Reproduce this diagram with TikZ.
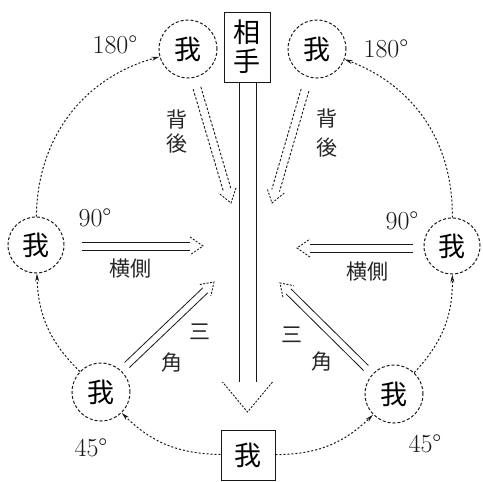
\documentclass[tikz,border=0pt]{standalone}
\usepackage{fontspec}
\newfontfamily\jp{Noto Sans CJK JP}
\usetikzlibrary{arrows.meta,calc}
\newcommand\dblarrow[7]{%
  \coordinate (dbH) at ($(#2)!#5!(#1)$);
  \draw[#6] ($(#1)!#3!90:(#2)$) -- ($(dbH)!#3!90:(#2)$)
            ($(#1)!#3!-90:(#2)$) -- ($(dbH)!#3!-90:(#2)$);
  \draw[#7] ($(dbH)!#4!90:(#2)$) -- (#2) -- ($(dbH)!#4!-90:(#2)$);
}
\tikzset{
  ring/.style={circle, draw=black!90, line width=1pt, dash pattern=on 3pt off 2pt,
    minimum size=58pt, inner sep=0pt, font=\jp\fontsize{27}{29}\selectfont},
  sq/.style={rectangle, draw=black!90, line width=1pt, inner sep=0pt,
    font=\jp\fontsize{27}{31}\selectfont, align=center},
  orbit/.style={black!90, line width=1pt, dash pattern=on 2pt off 2pt,
    -{Stealth[length=8pt,width=4pt]}},
  lab/.style={font=\jp\fontsize{21}{24}\selectfont, inner sep=0pt, text=black!85},
  deg/.style={font=\fontsize{26}{28}\selectfont, inner sep=0pt, text=black!90},
  solidshaft/.style={black!90, line width=0.8pt},
  dashshaft/.style={black!90, line width=0.9pt, dash pattern=on 2.5pt off 1.8pt},
  dothead/.style={black!90, line width=0.9pt, dash pattern=on 2pt off 1.5pt},
}
\begin{document}
\begin{tikzpicture}[x=1pt,y=1pt]
\useasboundingbox (0,0) rectangle (483,-482);
\fill[white] (0,0) rectangle (483,-482);

% nodes
\node[sq, minimum width=46pt, minimum height=70pt] (aite) at (247,-47) {相\\[-2pt]手};
\node[sq, minimum width=54pt, minimum height=50pt] (me) at (248,-455) {我};
\node[ring] (c180L) at (188,-49) {我};
\node[ring] (c180R) at (317,-49) {我};
\node[ring, minimum size=56pt] (c90L) at (36,-245) {我};
\node[ring, minimum size=56pt] (c90R) at (452,-246) {我};
\node[ring] (c45L) at (101,-392) {我};
\node[ring] (c45R) at (394,-394) {我};

% orbit arcs
\draw[orbit] (me) to[bend left=22] (c45L);
\draw[orbit] (c45L) to[bend left=22] (c90L);
\draw[orbit] (c90L) to[bend left=37] (c180L);
\draw[orbit] (me) to[bend right=22] (c45R);
\draw[orbit] (c45R) to[bend right=22] (c90R);
\draw[orbit] (c90R) to[bend right=35] (c180R);

% central long arrow
\coordinate (cTip) at (247.5,-412);
\coordinate (cStart) at (247.5,-82);
\dblarrow{cStart}{cTip}{8.5pt}{25pt}{30pt}{solidshaft}{dothead}

% back arrows
\coordinate (bLs) at (197,-88);  \coordinate (bLt) at (231,-203);
\coordinate (bRs) at (305,-90);  \coordinate (bRt) at (272,-203);
\dblarrow{bLs}{bLt}{4pt}{9pt}{13pt}{dashshaft}{dothead}
\dblarrow{bRs}{bRt}{4pt}{9pt}{13pt}{dashshaft}{dothead}

% side arrows
\coordinate (sLs) at (82,-246);  \coordinate (sLt) at (203,-246);
\coordinate (sRs) at (413,-248); \coordinate (sRt) at (297,-248);
\dblarrow{sLs}{sLt}{4pt}{9pt}{13pt}{solidshaft}{dothead}
\dblarrow{sRs}{sRt}{4pt}{9pt}{13pt}{solidshaft}{dothead}

% triangle arrows
\coordinate (tLs) at (127,-365); \coordinate (tLt) at (214,-282);
\coordinate (tRs) at (366,-368); \coordinate (tRt) at (280,-283);
\dblarrow{tLs}{tLt}{3.5pt}{8pt}{12pt}{solidshaft}{dothead}
\dblarrow{tRs}{tRt}{3.5pt}{8pt}{12pt}{solidshaft}{dothead}

% labels
\node[lab] (lb1) at (177,-120) {背};
\node[lab] (lb2) at (177,-144) {後};
\node[lab] (rb1) at (327,-119) {背};
\node[lab] (rb2) at (327,-148) {後};
\node[lab] (ls) at (131,-269) {横側};
\node[lab] (rs) at (367,-272) {横側};
\node[lab] (lt1) at (200,-332) {三};
\node[lab] (lt2) at (172,-363) {角};
\node[lab] (rt1) at (292,-335) {三};
\node[lab] (rt2) at (322,-362) {角};

\node[deg] (d180L) at (115,-45) {180°};
\node[deg] (d180R) at (386,-49) {180°};
\node[deg] (d90L) at (95,-218) {90°};
\node[deg] (d90R) at (402,-221) {90°};
\node[deg] (d45L) at (91,-448) {45°};
\node[deg] (d45R) at (425,-444) {45°};
\end{tikzpicture}
\end{document}
